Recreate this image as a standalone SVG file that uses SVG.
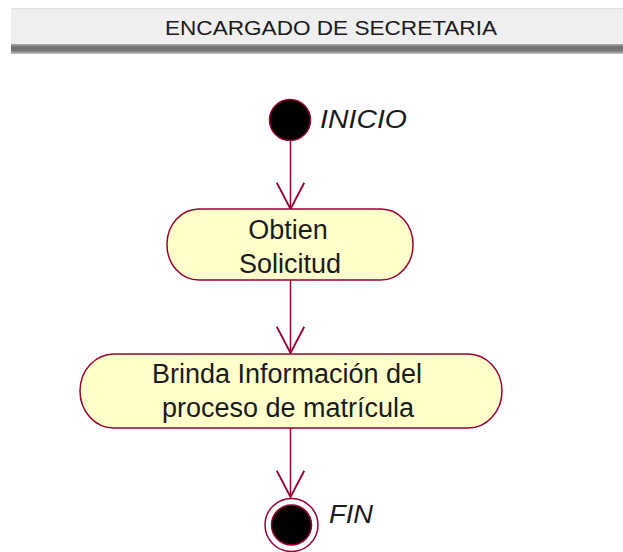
<svg xmlns="http://www.w3.org/2000/svg" width="623" height="552" viewBox="0 0 623 552">
<defs>
<linearGradient id="bar" x1="0" y1="0" x2="0" y2="1">
<stop offset="0" stop-color="#b0b0b0"/>
<stop offset="0.3" stop-color="#6e6e6e"/>
<stop offset="0.7" stop-color="#7a7a7a"/>
<stop offset="1" stop-color="#c8c8c8"/>
</linearGradient>
<marker id="arr" markerUnits="userSpaceOnUse" markerWidth="30" markerHeight="30" refX="22" refY="12" orient="auto" viewBox="0 0 24 24">
<path d="M1,1 L22,12 L1,23" fill="none" stroke="#990033" stroke-width="1.5"/>
</marker>
<style>
.lbl{font-family:"Liberation Sans",Arial,sans-serif;font-size:27px;fill:#1a1a1a;text-anchor:middle}
.it{font-family:"Liberation Sans",Arial,sans-serif;font-size:26px;font-style:italic;fill:#1a1a1a}
.act{fill:#ffffcc;stroke:#990033;stroke-width:1.5}
.edge{fill:none;stroke:#990033;stroke-width:1.5}
</style>
</defs>
<g id="header">
<rect x="11" y="8" width="612" height="36" fill="#efefef"/>
<line x1="11" y1="8.5" x2="623" y2="8.5" stroke="#e0e0e0"/>
<rect x="11" y="44" width="612" height="10" fill="url(#bar)"/>
<text x="331" y="35" font-family="Liberation Sans, Arial, sans-serif" font-size="21" fill="#1a1a1a" text-anchor="middle" textLength="332" lengthAdjust="spacingAndGlyphs">ENCARGADO DE SECRETARIA</text>
</g>
<g id="connectors">
<line class="edge" x1="290.5" y1="141" x2="290.5" y2="209" marker-end="url(#arr)"/>
<line class="edge" x1="290.5" y1="280" x2="290.5" y2="353" marker-end="url(#arr)"/>
<line class="edge" x1="290.5" y1="428" x2="290.5" y2="497" marker-end="url(#arr)"/>
</g>
<g id="inicio">
<circle cx="290" cy="120" r="20.5" fill="#000" stroke="#990033" stroke-width="1.5"/>
<text class="it" x="320" y="128" textLength="87" lengthAdjust="spacingAndGlyphs">INICIO</text>
</g>
<g id="obtien">
<rect class="act" x="167" y="209" width="246" height="71" rx="32" ry="35"/>
<text class="lbl" x="288" y="239">Obtien</text>
<text class="lbl" x="290" y="273">Solicitud</text>
</g>
<g id="brinda">
<rect class="act" x="80" y="354" width="422" height="74" rx="34" ry="37"/>
<text class="lbl" x="287" y="383">Brinda Información del</text>
<text class="lbl" x="288" y="417">proceso de matrícula</text>
</g>
<g id="fin">
<circle cx="291.5" cy="525" r="26.5" fill="#fff" stroke="#990033" stroke-width="1.5"/>
<circle cx="291.5" cy="525" r="20" fill="#000" stroke="#990033" stroke-width="1.5"/>
<text class="it" x="329" y="523" textLength="44" lengthAdjust="spacingAndGlyphs">FIN</text>
</g>
</svg>
